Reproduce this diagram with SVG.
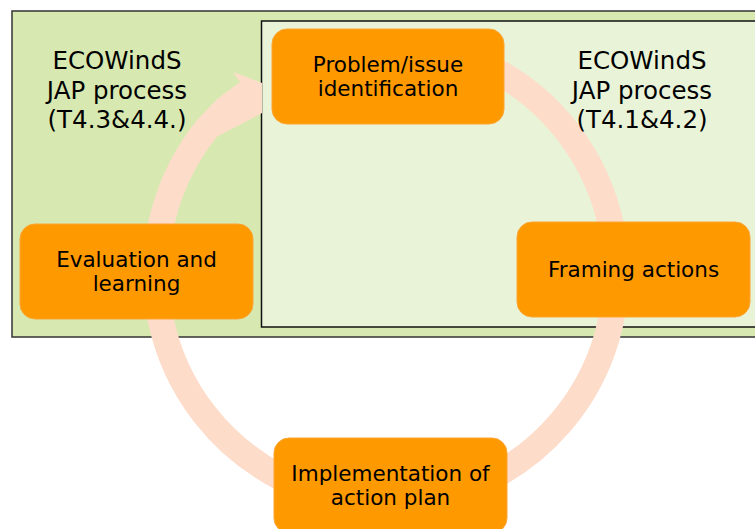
<svg xmlns="http://www.w3.org/2000/svg" width="755" height="529" viewBox="0 0 755 529">
<style>
.node rect{fill:#ff9900;stroke:#fca534;stroke-width:1}
text{font-family:"DejaVu Sans",Verdana,sans-serif;fill:#000;text-anchor:middle}
.lbl{font-size:24.5px}
.nt{font-size:21.5px}
.ring{fill:none;stroke:#fddcca;stroke-width:26}
.head{fill:#fddcca}
</style>
<rect x="12" y="11" width="760" height="326" fill="#d7e9b1" stroke="#333" stroke-width="1.5"/>
<rect x="261.5" y="21" width="510" height="306" fill="#e9f3d7" stroke="#111" stroke-width="1.5"/>
<g id="connectors">
<path class="ring" d="M406.05,43.87 A230,230 0 1 1 208,127.3"/>
<polygon class="head" points="198,119 218,98.5 240,82 233,72 262,83 262,113 218,136"/>
</g>
<g id="label-left">
<text class="lbl" x="117" y="69">ECOWindS</text>
<text class="lbl" x="117" y="99">JAP process</text>
<text class="lbl" x="117" y="128">(T4.3&amp;4.4.)</text>
</g>
<g id="label-right">
<text class="lbl" x="642" y="69">ECOWindS</text>
<text class="lbl" x="642" y="99">JAP process</text>
<text class="lbl" x="642" y="128">(T4.1&amp;4.2)</text>
</g>
<g id="node-problem" class="node">
<rect x="272" y="29" width="232" height="95" rx="15"/>
<text class="nt" x="388" y="71.5">Problem/issue</text>
<text class="nt" x="388" y="96">identification</text>
</g>
<g id="node-framing" class="node">
<rect x="517" y="222" width="233" height="95" rx="15"/>
<text class="nt" x="633.5" y="277">Framing actions</text>
</g>
<g id="node-implementation" class="node">
<rect x="274" y="438" width="233" height="95" rx="15"/>
<text class="nt" x="390.5" y="480.5">Implementation of</text>
<text class="nt" x="390.5" y="504.5">action plan</text>
</g>
<g id="node-evaluation" class="node">
<rect x="20" y="224" width="233" height="95" rx="15"/>
<text class="nt" x="136.5" y="266.5">Evaluation and</text>
<text class="nt" x="136.5" y="290.5">learning</text>
</g>
</svg>
